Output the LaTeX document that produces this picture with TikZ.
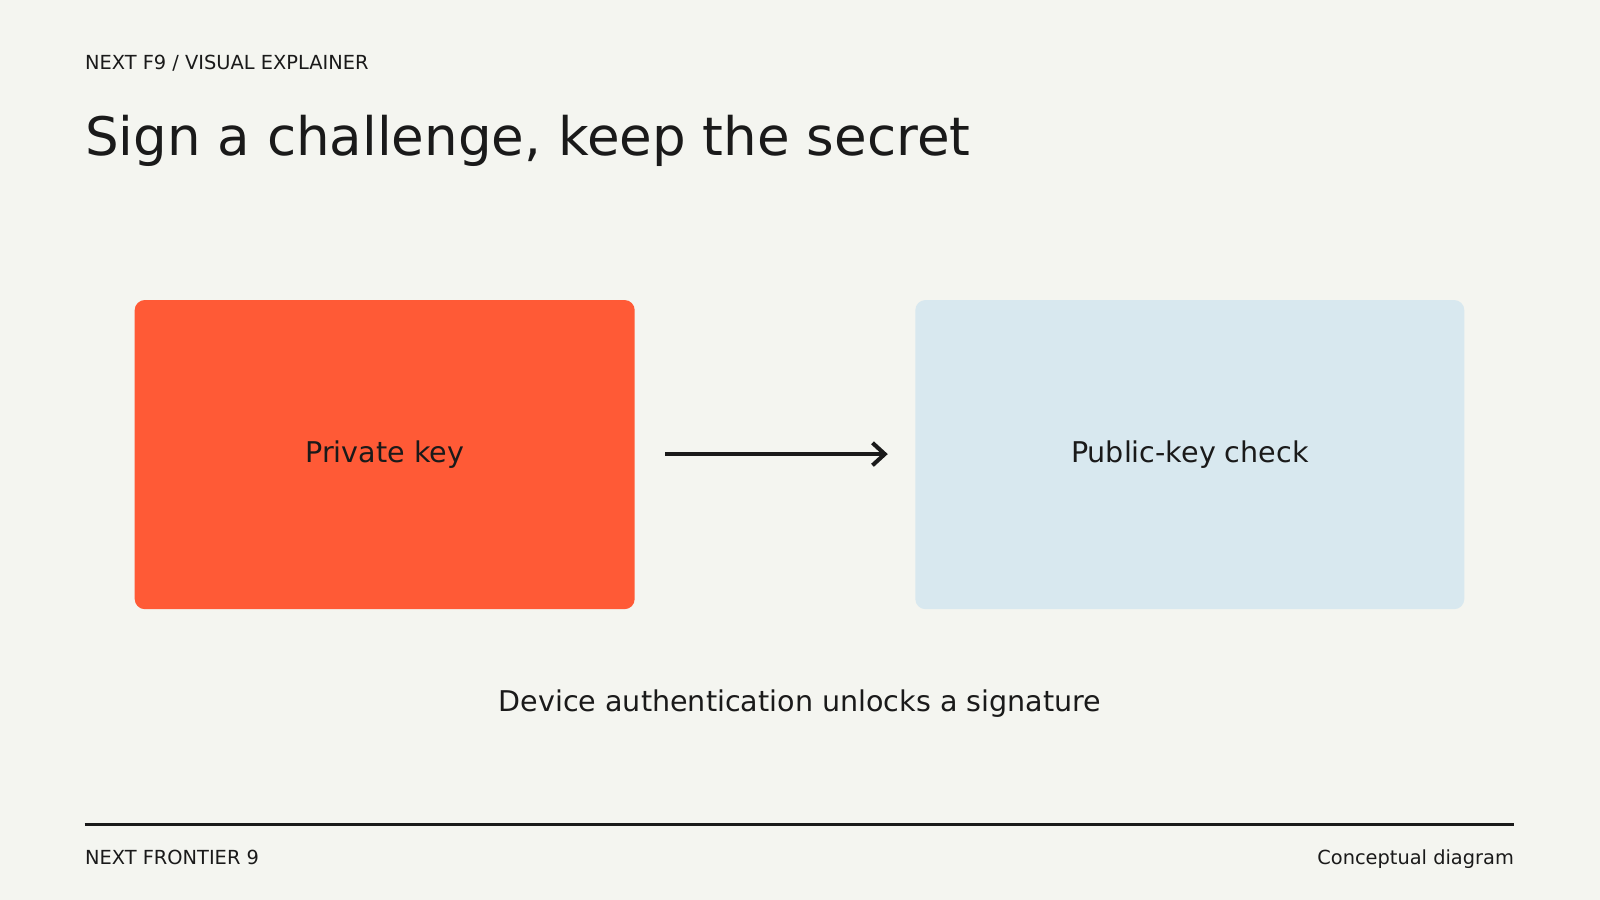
\documentclass[tikz,border=0pt]{standalone}
\usepackage{fontspec}
\setmainfont{DejaVu Sans}
\usetikzlibrary{arrows.meta}
\definecolor{paper}{HTML}{F4F5F0}
\definecolor{ink}{HTML}{1A1A1A}
\definecolor{keyred}{HTML}{FF5A36}
\definecolor{checkblue}{HTML}{D8E8EF}
\begin{document}
\begin{tikzpicture}
    [
    x=0.5pt, y=-0.5pt,
    box/.style={rectangle, rounded corners=5pt, minimum width=245pt, minimum height=151.5pt, text=ink, font=\fontsize{14}{17}\selectfont},
    arrow/.style={-{Straight Barb[length=6pt,width=11pt]}, line width=2pt, draw=ink},
    small/.style={anchor=base west, text=ink, font=\fontsize{9.5}{11}\selectfont, inner sep=0pt}
    ]

% Background
    \fill[paper] (0,0) rectangle (1568,882);

% Header
    \node[small] (kicker) at (83,68) {NEXT F9 / VISUAL EXPLAINER};
    \node[anchor=base west, text=ink, font=\fontsize{26}{30}\selectfont, inner sep=0pt] (title) at (83,152) {Sign a challenge, keep the secret};

% Boxes
    \node[box, fill=keyred, minimum width=245pt] (private) at (377,445.5) {Private key};
    \node[box, fill=checkblue, minimum width=269pt] (public) at (1166,445.5) {Public-key check};

% Arrow
    \coordinate (from) at (652,445);
    \coordinate (to) at (870,445);
    \draw[arrow] (from) -- (to);

% Caption
    \node[text=ink, font=\fontsize{14}{17}\selectfont] (caption) at (784,690) {Device authentication unlocks a signature};

% Footer
    \coordinate (ruleL) at (83,808);
    \coordinate (ruleR) at (1484,808);
    \draw[ink, line width=1pt] (ruleL) -- (ruleR);
    \node[small] (brand) at (83,847) {NEXT FRONTIER 9};
    \node[small, anchor=base east] (kind) at (1484,847) {Conceptual diagram};

\end{tikzpicture}
\end{document}
